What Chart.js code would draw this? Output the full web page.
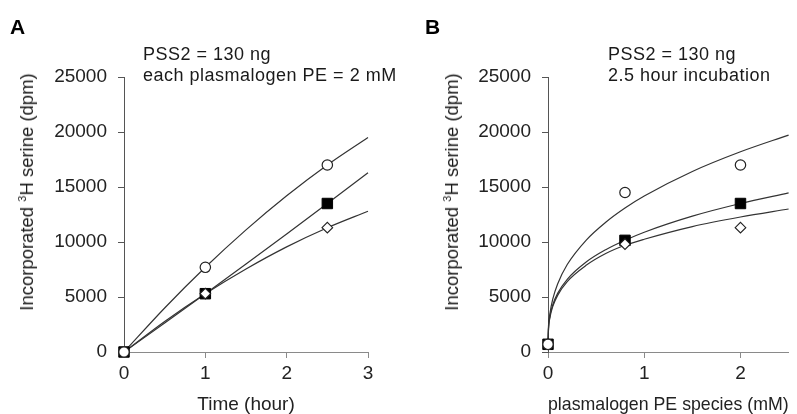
<!DOCTYPE html>
<html>
<head>
<meta charset="utf-8">
<script src="https://cdn.jsdelivr.net/npm/chart.js@4.4.0/dist/chart.umd.min.js"></script>
<style>
  body { margin: 0; background: #fff; }
  #wrap { position: relative; width: 797px; height: 414px; overflow: hidden;
          font-family: "Liberation Sans", Arial, sans-serif; color: #1a1a1a; }
  canvas { position: absolute; top: 0; }
  .panel { position: absolute; font-weight: bold; font-size: 21px; line-height: 21px; color: #000; }
  .note { position: absolute; font-size: 18px; line-height: 21px; letter-spacing: 0.5px; white-space: nowrap; }
  .ytitle { position: absolute; font-size: 18.5px; white-space: nowrap;
            line-height: 20px; transform: translate(-50%, -50%) rotate(-90deg); }
  .ytitle sup { font-size: 11px; line-height: 0; }
</style>
</head>
<body>
<div id="wrap">
  <canvas id="chartA" width="398" height="414" style="left:0"></canvas>
  <canvas id="chartB" width="397" height="414" style="left:400px"></canvas>

  <div class="panel" style="left:10px; top:16px">A</div>
  <div class="panel" style="left:425px; top:16px">B</div>

  <div class="note" style="left:143px; top:44px">PSS2 = 130 ng<br>each plasmalogen PE = 2 mM</div>
  <div class="note" style="left:608px; top:44px">PSS2 = 130 ng<br>2.5 hour incubation</div>

  <div class="ytitle" style="left:27px; top:192px">Incorporated <sup>3</sup>H serine (dpm)</div>
  <div class="ytitle" style="left:452px; top:192px">Incorporated <sup>3</sup>H serine (dpm)</div>
</div>

<script>
// panel A: time course
const timeHours = [0, 1, 2.5];
const circleTime = [0, 7700, 17000];
const squareTime = [0, 5300, 13500];
const diamondTime = [0, 5300, 11300];

// fitted curves
const fitHours = [0, 0.5, 1, 1.5, 2, 2.5, 3];
const circleTimeFit = [0, 4000, 7700, 11100, 14200, 17000, 19500];
const squareTimeFit = [0, 2630, 5300, 8000, 10730, 13500, 16300];
const diamondTimeFit = [0, 2780, 5300, 7550, 9560, 11300, 12800];

// panel B: concentration
const concMM = [0, 0.8, 2];
const circleConc = [700, 14500, 17000];
const squareConc = [700, 10150, 13500];
const diamondConc = [700, 9800, 11300];

// fitted curves
const fitMM = [0, 0.005, 0.02, 0.05, 0.1, 0.2, 0.4, 0.6, 0.8, 1, 1.5, 2, 2.5];
const circleConcFit = [600, 2300, 3500, 4830, 6190, 7950, 10200, 11800, 13090, 14180, 16410, 18200, 19720];
const squareConcFit = [600, 2100, 3250, 4300, 5330, 6610, 8200, 9300, 10160, 10890, 12350, 13500, 14460];
const diamondConcFit = [600, 2000, 3100, 4150, 5150, 6400, 7900, 8950, 9700, 10250, 11400, 12270, 13000];

const yTicks = [0, 5000, 10000, 15000, 20000, 25000];
const xTicksA = [0, 1, 2, 3];
const xTicksB = [0, 1, 2];

const FONT = '"Liberation Sans", Arial, sans-serif';

const pts = (xs, ys) => xs.map((x, i) => ({x: x, y: ys[i]}));

function markers(xs, ys, style) {
    const base = {
        data: pts(xs, ys),
        showLine: false,
        clip: false,
        pointHoverRadius: 0
    };
    if (style === 'circle') {
        return Object.assign(base, {pointStyle: 'circle', pointRadius: 5.2,
            pointBackgroundColor: '#fff', pointBorderColor: '#222', pointBorderWidth: 1.2});
    }
    if (style === 'diamond') {
        return Object.assign(base, {pointStyle: 'rectRot', pointRadius: 5.3,
            pointBackgroundColor: '#fff', pointBorderColor: '#222', pointBorderWidth: 1.1});
    }
    return Object.assign(base, {pointStyle: 'rect', pointRadius: 7.4,
        pointBackgroundColor: '#000', pointBorderColor: '#000', pointBorderWidth: 1});
}

function fitLine(xs, ys) {
    return {
        data: pts(xs, ys),
        showLine: true,
        pointRadius: 0,
        borderColor: '#333',
        borderWidth: 1.2,
        cubicInterpolationMode: 'monotone',
        clip: false
    };
}

function makeChart(id, opt) {
    const grid = {display: true, drawOnChartArea: false, drawTicks: true, tickLength: 6, lineWidth: 1};
    new Chart(document.getElementById(id), {
        type: 'scatter',
        data: {datasets: opt.datasets},
        options: {
            responsive: false,
            animation: false,
            devicePixelRatio: 1,
            layout: {padding: {left: 0, right: opt.padRight, top: 77, bottom: 0}},
            plugins: {legend: {display: false}, tooltip: {enabled: false}},
            scales: {
                x: {
                    type: 'linear',
                    min: 0,
                    max: opt.xMax,
                    afterFit: (s) => { s.height = 62; },
                    afterBuildTicks: (s) => { s.ticks = opt.xTicks.map(v => ({value: v})); },
                    grid: Object.assign({color: '#8a8a8a'}, grid),
                    border: {display: true, color: '#8a8a8a', width: 1},
                    ticks: {color: '#222', padding: 4, maxRotation: 0, autoSkip: false,
                            font: {family: FONT, size: 19}},
                    title: {display: true, text: opt.xTitle, color: '#222', padding: {top: 0, bottom: 0},
                            font: {family: FONT, size: 19, lineHeight: 1}}
                },
                y: {
                    type: 'linear',
                    min: 0,
                    max: 25000,
                    afterFit: (s) => { s.width = opt.yWidth; },
                    afterBuildTicks: (s) => { s.ticks = yTicks.map(v => ({value: v})); },
                    grid: Object.assign({color: '#555'}, grid),
                    border: {display: true, color: '#555', width: 1},
                    ticks: {color: '#222', padding: 11, callback: (v) => String(v),
                            font: {family: FONT, size: 19}}
                }
            }
        }
    });
}

makeChart('chartA', {
    xMax: 3,
    xTicks: xTicksA,
    xTitle: 'Time (hour)',
    yWidth: 124,
    padRight: 30,
    datasets: [
        markers(timeHours, circleTime, 'circle'),
        markers(timeHours, diamondTime, 'diamond'),
        markers(timeHours, squareTime, 'square'),
        fitLine(fitHours, circleTimeFit),
        fitLine(fitHours, squareTimeFit),
        fitLine(fitHours, diamondTimeFit)
    ]
});

makeChart('chartB', {
    xMax: 2.5,
    xTicks: xTicksB,
    xTitle: 'plasmalogen PE species (mM)',
    yWidth: 148,
    padRight: 4,
    datasets: [
        markers(concMM, circleConc, 'circle'),
        markers(concMM, diamondConc, 'diamond'),
        markers(concMM, squareConc, 'square'),
        fitLine(fitMM, circleConcFit),
        fitLine(fitMM, squareConcFit),
        fitLine(fitMM, diamondConcFit)
    ]
});
</script>
</body>
</html>
